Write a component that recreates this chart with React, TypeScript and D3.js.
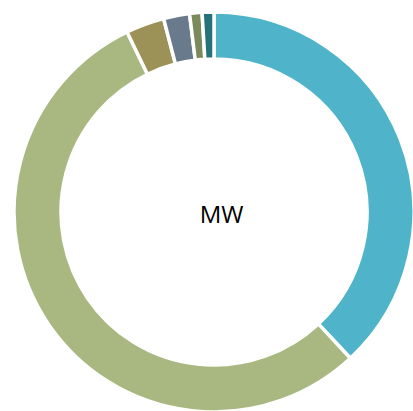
import React, { useEffect, useRef } from 'react';
import * as d3 from 'd3';

// slices, clockwise from 12 o'clock
const sources = ['Hydro', 'Thermal', 'Wind', 'Solar', 'Biomass', 'Other'];
const shares = [38.0, 54.7, 3.1, 2.1, 1.0, 0.95];
const colors = ['#4fb4c9', '#a9b880', '#9c9257', '#687a8c', '#7b8a5c', '#27717b'];
const centerLabel = 'MW';

const App = () => {
  const ref = useRef<SVGSVGElement>(null);

  useEffect(() => {
    const svg = d3.select(ref.current);
    svg.selectAll('*').remove();

    const cx = 214;
    const cy = 212;

    const data = sources.map((s, i) => ({ source: s, value: shares[i] }));

    const pie = d3
      .pie<{ source: string; value: number }>()
      .sort(null)
      .value((d) => d.value);

    const arc = d3
      .arc<d3.PieArcDatum<{ source: string; value: number }>>()
      .innerRadius(153)
      .outerRadius(200);

    const chart = svg.append('g').attr('transform', `translate(${cx}, ${cy})`);

    chart
      .selectAll('path')
      .data(pie(data))
      .join('path')
      .attr('d', arc)
      .style('fill', (_, i) => colors[i])
      .style('stroke', '#fff')
      .style('stroke-width', 3.5);

    // label in the hole
    svg
      .append('text')
      .attr('x', 221.5)
      .attr('y', 223)
      .style('text-anchor', 'middle')
      .style('font-family', 'Open Sans, Liberation Sans, sans-serif')
      .style('font-size', '24px')
      .style('fill', '#000')
      .text(centerLabel);
  }, []);

  return (
    <svg
      ref={ref}
      width="413"
      height="411"
      style={{ position: 'absolute', left: 0, top: 0, background: '#fff' }}
    ></svg>
  );
};

export default App;
